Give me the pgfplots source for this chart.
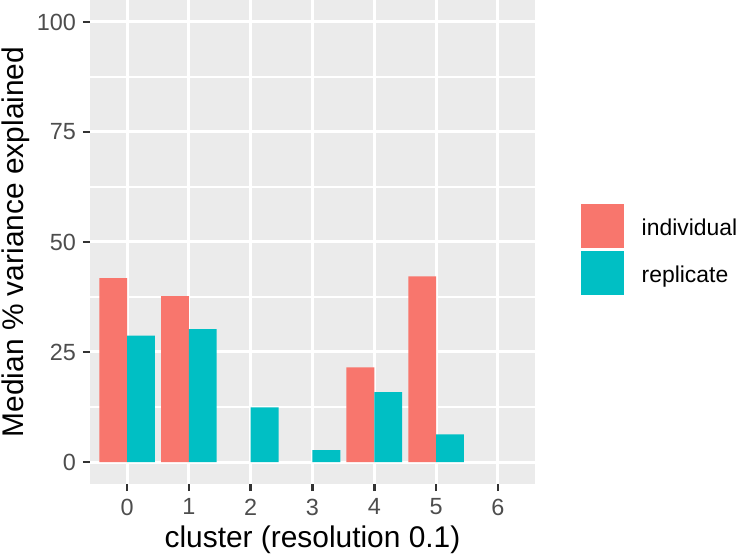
\documentclass[border=0pt]{standalone}
\usepackage{pgfplots}
\pgfplotsset{compat=1.18}
\usepackage{fontspec}
\setmainfont{Liberation Sans}
\definecolor{panelbg}{HTML}{EBEBEB}
\definecolor{indcol}{HTML}{F8766D}
\definecolor{repcol}{HTML}{00BFC4}
\definecolor{tickcol}{HTML}{333333}
\definecolor{ticklab}{HTML}{4D4D4D}
\begin{document}
\begin{tikzpicture}
\begin{axis}[
  scale only axis,
  width=445bp, height=484bp,
  xmin=-0.6, xmax=6.6, ymin=-5, ymax=105,
  axis background/.style={fill=panelbg},
  axis line style={draw=none},
  xtick={0,1,2,3,4,5,6},
  ytick={0,25,50,75,100},
  minor ytick={12.5,37.5,62.5,87.5},
  grid=both,
  major grid style={white, line width=3bp},
  minor grid style={white, line width=1.5bp},
  tick align=outside,
  tick pos=left,
  major tick length=7bp,
  minor tick length=0bp,
  major tick style={tickcol, line width=2.7bp},
  /pgf/number format/assume math mode=true,
  tick label style={font=\fontsize{23.5}{28}\selectfont, text=ticklab, inner sep=0pt},
  xticklabel style={anchor=north, yshift=-7.5bp},
  yticklabel style={anchor=east, xshift=-6.9bp},
  xlabel={cluster (resolution 0.1)},
  ylabel={Median \% variance explained},
  every axis x label/.style={at={(axis description cs:0.5,-0.1322)}, anchor=base, inner sep=0pt, font=\fontsize{30}{36}\selectfont},
  every axis y label/.style={at={(axis description cs:-0.1995,0.5)}, rotate=90, anchor=north, inner sep=0pt, font=\fontsize{30}{36}\selectfont},
  legend style={at={(axis description cs:1.1027,0.5785)}, anchor=north west, draw=none, fill=none, inner sep=0pt, outer sep=0pt, row sep=3.3bp, column sep=17.4bp, font=\fontsize{23}{27}\selectfont, nodes={inner sep=0pt, anchor=base west}},
  legend image code/.code={\fill[#1] (0bp,-12.7bp) rectangle (43.6bp,31bp);},
  legend cell align=left,
]
\addplot[ybar, bar width=0.45, bar shift=-0.225, fill=indcol, draw=none] coordinates {(0,41.8) (1,37.7) (4,21.5) (5,42.2)};
\addplot[ybar, bar width=0.45, bar shift=0.225, fill=repcol, draw=none] coordinates {(0,28.7) (1,30.2) (2,12.4) (3,2.7) (4,15.9) (5,6.3)};
\legend{individual, replicate}
\end{axis}
\pgfresetboundingbox
\useasboundingbox (-90bp,-73bp) rectangle (649bp,484bp);
\end{tikzpicture}
\end{document}
